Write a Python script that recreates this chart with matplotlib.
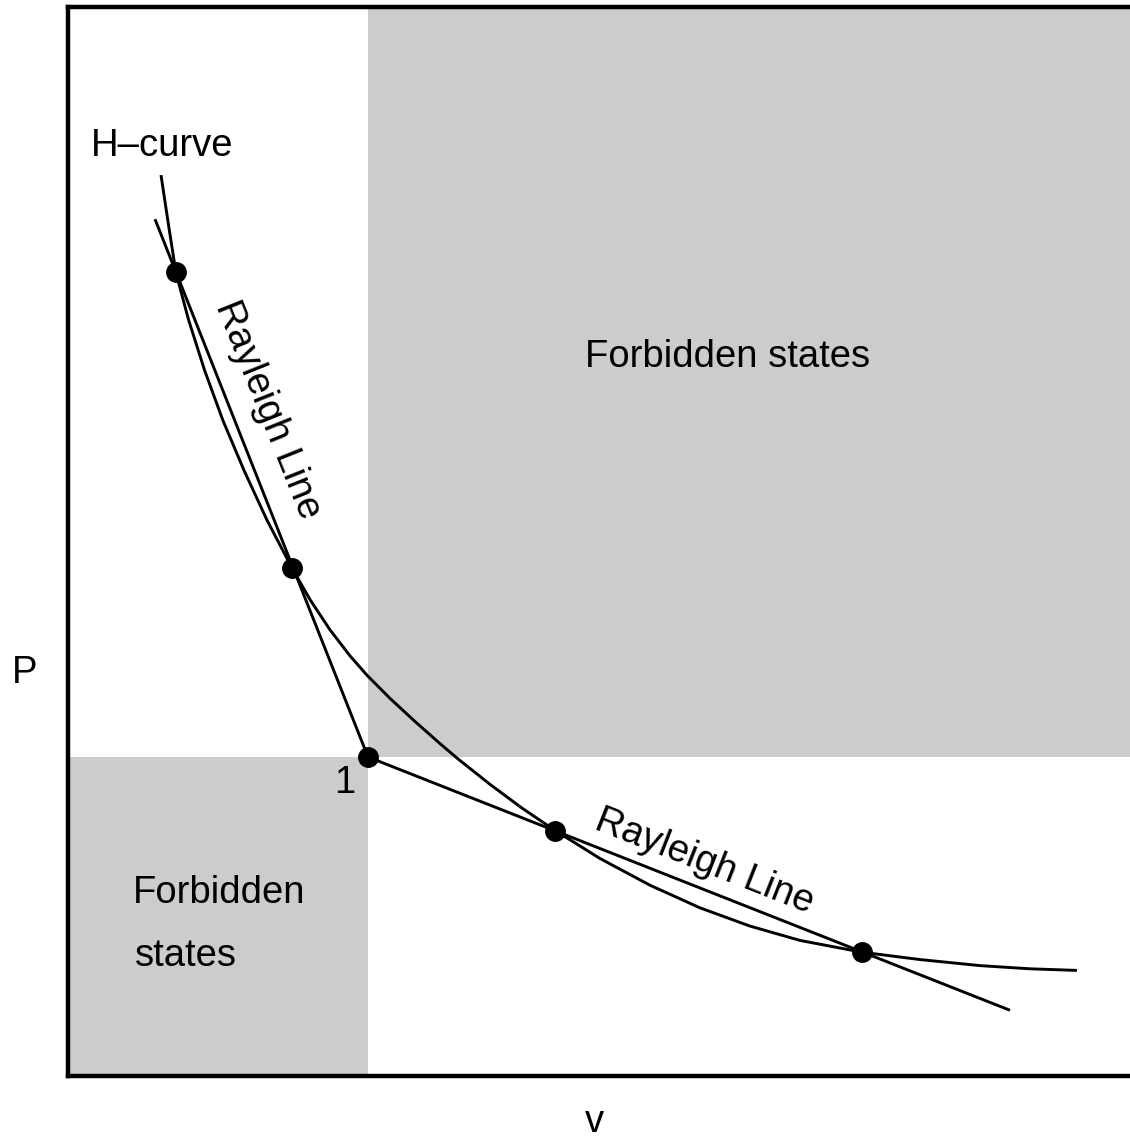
import matplotlib
matplotlib.use("Agg")
from matplotlib import pyplot as plt

plt.rcParams['font.family'] = ['Liberation Sans', 'DejaVu Sans']

# H-curve (v, P), with v and P scaled so that state 1 is (1, 1)
h_v = [0.310, 0.335, 0.360, 0.402, 0.455, 0.516, 0.586, 0.663, 0.748, 0.807,
       0.873, 0.940, 0.997, 1.073, 1.157, 1.240, 1.300, 1.407, 1.513, 1.623,
       1.773, 1.940, 2.107, 2.273, 2.440, 2.647, 2.840, 3.040, 3.207, 3.363]
h_P = [2.824, 2.668, 2.517, 2.370, 2.213, 2.056, 1.900, 1.743, 1.590, 1.493,
       1.399, 1.317, 1.256, 1.184, 1.111, 1.042, 0.994, 0.914, 0.840, 0.770,
       0.682, 0.598, 0.527, 0.470, 0.425, 0.388, 0.365, 0.346, 0.336, 0.331]

# Rayleigh lines through state 1
ray_up_v = [0.29, 1.0]
ray_up_P = [2.686, 1.0]
ray_lo_v = [1.0, 3.14]
ray_lo_P = [1.0, 0.206]

# intersection points
pts_v = [0.36, 0.748, 1.0, 1.623, 2.647]
pts_P = [2.52, 1.592, 1.0, 0.769, 0.389]

# reference state
v0, P0 = 1.0, 1.0
vmax, Pmax = 3.64, 3.351

fig = plt.figure(figsize=(11.3, 11.38), dpi=100)
ax = fig.add_axes([68 / 1130, 62 / 1138, 1092 / 1130, 1069 / 1138])
ax.set_xlim(0, vmax)
ax.set_ylim(0, Pmax)

#forbidden regions
ax.fill_between([v0, vmax], P0, Pmax, color='#cccccc', lw=0, zorder=0)
ax.fill_between([0, v0], 0, P0, color='#cccccc', lw=0, zorder=0)

ax.plot(h_v, h_P, color='black', lw=2.1, solid_capstyle='butt', solid_joinstyle='round')
ax.plot(ray_up_v, ray_up_P, color='black', lw=2.1, solid_capstyle='butt')
ax.plot(ray_lo_v, ray_lo_P, color='black', lw=2.1, solid_capstyle='butt')
ax.plot(pts_v, pts_P, 'o', color='black', ms=14, zorder=5)

fs = 27.5
ax.text(0.313, 2.915, 'H\u2013curve', fontsize=fs, ha='center', va='center')
ax.text(2.197, 2.254, 'Forbidden states', fontsize=fs, ha='center', va='center')
ax.text(0.217, 0.574, 'Forbidden', fontsize=fs, ha='left', va='center')
ax.text(0.223, 0.376, 'states', fontsize=fs, ha='left', va='center')
ax.text(0.923, 0.918, '1', fontsize=fs, ha='center', va='center')
ax.text(0.667, 2.088, 'Rayleigh Line', fontsize=fs, ha='center', va='center',
        rotation=-68.2, rotation_mode='anchor')
ax.text(2.123, 0.671, 'Rayleigh Line', fontsize=fs, ha='center', va='center',
        rotation=-21.5, rotation_mode='anchor')

ax.set_xticks([])
ax.set_yticks([])
for s in ax.spines.values():
    s.set_linewidth(3.2)

fig.text(25 / 1130, 1 - 673 / 1138, 'P', fontsize=fs, ha='center', va='center')
fig.text(594 / 1130, 1 - 1132 / 1138, 'v', fontsize=fs, ha='center', va='baseline')

fig.savefig('out.png', dpi=100)
